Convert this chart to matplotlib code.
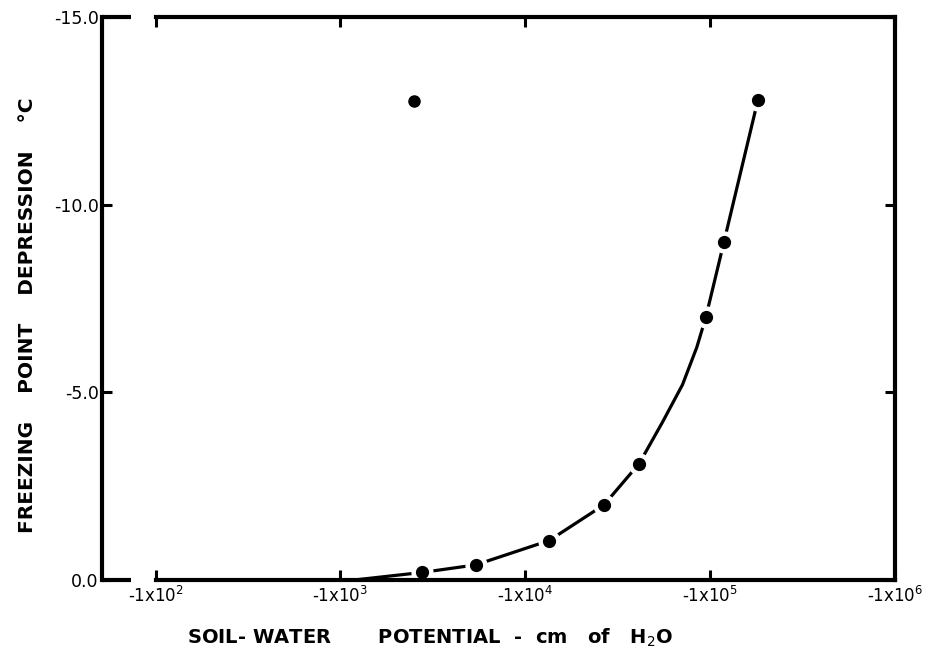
import matplotlib.pyplot as plt
import numpy as np

# soil-water potential (magnitude, cm of H2O) and freezing point depression (C)
potential = [2780, 5400, 13500, 26700, 41400, 95000, 119000, 182000]
depression = [-0.2, -0.4, -1.05, -2.0, -3.1, -7.0, -9.0, -12.8]

# the hand drawn curve: runs along the axis, then through the points
curve_potential = [100, 1200, 2780, 5400, 13500, 26700, 41400, 55300, 71000, 84900, 95000, 119000, 182000]
curve_depression = [0.0, 0.0, -0.2, -0.4, -1.05, -2.0, -3.1, -4.2, -5.2, -6.2, -7.0, -9.0, -12.8]

# lone dot up near the top
odd_potential = [2500]
odd_depression = [-12.75]

x_ticks = [1e2, 1e3, 1e4, 1e5, 1e6]
x_tick_labels = ["-1x10$^{2}$", "-1x10$^{3}$", "-1x10$^{4}$", "-1x10$^{5}$", "-1x10$^{6}$"]
y_ticks = [0, -5, -10, -15]
y_tick_labels = ["0.0", "-5.0", "-10.0", "-15.0"]

x_min, x_max = 51, 1e6
gap_start = 74  # the frame is broken just left of -1x10^2

plt.rcParams['mathtext.fontset'] = 'dejavusans'

fig = plt.figure(figsize=(9.32, 6.56), dpi=100)
ax = fig.add_axes([0.109, 0.116, 0.851, 0.858])

ax.plot(curve_potential, curve_depression, color='black', lw=2.3, solid_capstyle='round',
        solid_joinstyle='round', zorder=2)
ax.plot(potential, depression, 'o', ms=15, color='white', zorder=2.1)
ax.plot(potential, depression, 'o', ms=8.5, color='black', zorder=2.2)
ax.plot(odd_potential, odd_depression, 'o', ms=8, color='black', zorder=2.2)

ax.set_xscale('log')
ax.set_xlim(x_min, x_max)
ax.set_ylim(0, -15)

ax.set_xticks(x_ticks)
ax.set_xticklabels(x_tick_labels, fontsize=12)
ax.xaxis.set_minor_locator(plt.NullLocator())
ax.set_yticks(y_ticks)
ax.set_yticklabels(y_tick_labels, fontsize=12.5)

ax.tick_params(direction='in', length=7, width=2.2, top=True, right=True,
               labeltop=False, labelright=False)
ax.tick_params(axis='x', pad=4)
ax.tick_params(axis='y', pad=2)

for side in ['left', 'right', 'top', 'bottom']:
    ax.spines[side].set_linewidth(3)
ax.spines['bottom'].set_bounds(1e2, x_max)
ax.spines['top'].set_bounds(1e2, x_max)

# short stubs of the frame left of the break
frac = (np.log10(gap_start) - np.log10(x_min)) / (np.log10(x_max) - np.log10(x_min))
ax.axhline(0, 0, frac, color='black', lw=3, clip_on=False, solid_capstyle='butt')
ax.axhline(-15, 0, frac, color='black', lw=3, clip_on=False, solid_capstyle='butt')

ax.set_xlabel("SOIL- WATER       POTENTIAL  -  cm   of   H$_2$O", fontsize=14, fontweight='bold')
ax.xaxis.set_label_coords(0.414, -0.083)
ax.set_ylabel("FREEZING    POINT    DEPRESSION    °C", fontsize=14.5, fontweight='bold')
ax.yaxis.set_label_coords(-0.082, 0.47)

plt.savefig("out.png", dpi=100)
